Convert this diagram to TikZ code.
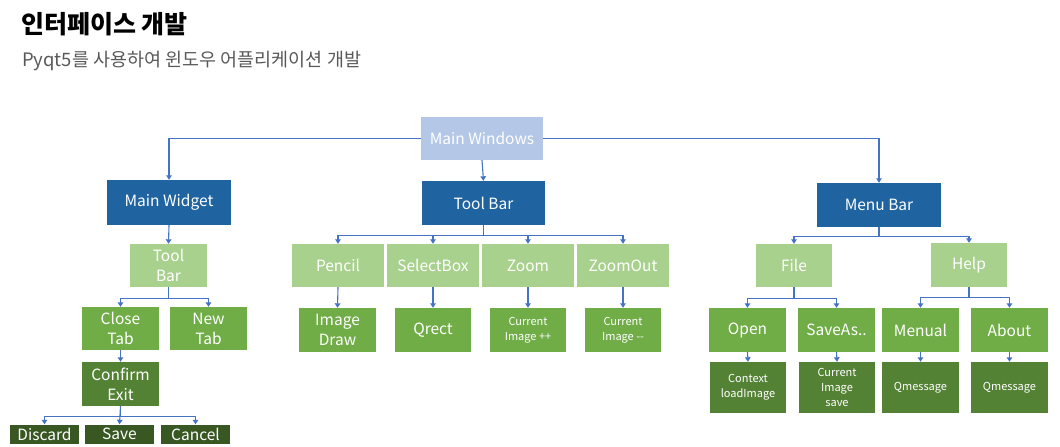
\documentclass[tikz,border=0pt]{standalone}
\usepackage{fontspec}
\setmainfont{Noto Sans CJK KR}
\usetikzlibrary{arrows.meta}
\definecolor{cMainWin}{HTML}{B4C7E7}
\definecolor{cBlue}{HTML}{1F64A0}
\definecolor{cLG}{HTML}{A9D18E}
\definecolor{cG}{HTML}{70AD47}
\definecolor{cDG}{HTML}{548235}
\definecolor{cDDG}{HTML}{385723}
\definecolor{cLine}{HTML}{4472C4}
\definecolor{cSub}{HTML}{595959}
\begin{document}
\begin{tikzpicture}[x=1pt,y=-1pt,
  box/.style={inner sep=0pt, text=white, align=center, font=\fontsize{15.5}{20}\selectfont},
  sz/.style 2 args={minimum width=#1pt, minimum height=#2pt},
  mainwin/.style={box, fill=cMainWin},
  bluebox/.style={box, fill=cBlue},
  lgbox/.style={box, fill=cLG},
  gbox/.style={box, fill=cG},
  dgbox/.style={box, fill=cDG},
  ddgbox/.style={box, fill=cDDG},
  small/.style={font=\fontsize{11}{15}\selectfont},
  conn/.style={draw=cLine, line width=1.1pt, -{Triangle[width=5.5pt,length=4.5pt]}}
]
\useasboundingbox (0,0) rectangle (1060,447);

% titles
\node[anchor=base west, inner sep=0pt, font=\fontsize{25}{30}\selectfont\bfseries] (title) at (21,33) {인터페이스 개발};
\node[anchor=base west, inner sep=0pt, text=cSub, font=\fontsize{18.5}{22}\selectfont] (subtitle) at (22,66) {Pyqt5를 사용하여 윈도우 어플리케이션 개발};

% level 0
\node[mainwin, sz={122}{43}] (mw) at (482,138.5) {Main Windows};

% level 1
\node[bluebox, sz={124}{45}] (widget) at (169,202.5) {Main Widget};
\node[bluebox, sz={123}{44}] (tbar) at (483.5,203) {Tool Bar};
\node[bluebox, sz={124}{44}] (mbar) at (879,205) {Menu Bar};

% main widget branch
\node[lgbox, sz={77}{43}] (wtb) at (168.5,265.5) {Tool\\Bar};
\node[gbox, sz={77}{43}] (close) at (120.5,328.5) {Close\\Tab};
\node[gbox, sz={77}{43}] (new) at (208.5,328.5) {New\\Tab};
\node[dgbox, sz={77}{44}] (confirm) at (120.5,384) {Confirm\\Exit};
\node[ddgbox, sz={69}{19}] (discard) at (44.5,434) {Discard};
\node[ddgbox, sz={69}{19}] (save) at (119.5,434) {Save};
\node[ddgbox, sz={69}{19}] (cancel) at (195.5,434) {Cancel};

% tool bar branch
\node[lgbox, sz={92}{43}] (pencil) at (338,265.5) {Pencil};
\node[lgbox, sz={92}{43}] (select) at (433,265.5) {SelectBox};
\node[lgbox, sz={92}{43}] (zoom) at (528,265.5) {Zoom};
\node[lgbox, sz={92}{43}] (zoomout) at (623,265.5) {ZoomOut};
\node[gbox, sz={77}{44}] (draw) at (337.5,330) {Image\\Draw};
\node[gbox, sz={76}{44}] (qrect) at (433,330) {Qrect};
\node[gbox, sz={76}{44}, small] (zin) at (528,330) {Current\\Image ++};
\node[gbox, sz={76}{44}, small] (zout) at (623,330) {Current\\Image {-}{-}};

% menu bar branch
\node[lgbox, sz={76}{43}] (file) at (794,265.5) {File};
\node[lgbox, sz={76}{44}] (help) at (969,265) {Help};
\node[gbox, sz={77}{44}] (open) at (747.5,330) {Open};
\node[gbox, sz={77}{44}] (saveas) at (836.5,330) {SaveAs..};
\node[gbox, sz={77}{44}] (manual) at (920.5,330) {Menual};
\node[gbox, sz={77}{44}] (about) at (1009.5,330) {About};
\node[dgbox, sz={76}{51}, small] (ctx) at (748,387.5) {Context\\loadImage};
\node[dgbox, sz={76}{51}, small] (cis) at (837,387.5) {Current\\Image\\save};
\node[dgbox, sz={77}{51}, small] (qm1) at (920.5,387.5) {Qmessage};
\node[dgbox, sz={77}{51}, small] (qm2) at (1009.5,387.5) {Qmessage};

% connectors level 0 -> 1
\draw[conn] (mw.west) -| (widget.north);
\draw[conn] (mw.south) -- (tbar.north);
\draw[conn] (mw.east) -| (mbar.north);

% main widget branch
\draw[conn] (widget.south) -- (wtb.north);
\draw[conn] (wtb.south) -- ++(0,11) -| (close.north);
\draw[conn] (wtb.south) -- ++(0,11) -| (new.north);
\draw[conn] (close.south) -- (confirm.north);
\draw[conn] (confirm.south) -- ++(0,10) -| (discard.north);
\draw[conn] (confirm.south) -- (save.north);
\draw[conn] (confirm.south) -- ++(0,10) -| (cancel.north);

% tool bar branch
\draw[conn] (tbar.south) -- ++(0,10) -| (pencil.north);
\draw[conn] (tbar.south) -- ++(0,10) -| (select.north);
\draw[conn] (tbar.south) -- ++(0,10) -| (zoom.north);
\draw[conn] (tbar.south) -- ++(0,10) -| (zoomout.north);
\draw[conn] (pencil.south) -- (draw.north);
\draw[conn] (select.south) -- (qrect.north);
\draw[conn] (zoom.south) -- (zin.north);
\draw[conn] (zoomout.south) -- (zout.north);

% menu bar branch
\draw[conn] (mbar.south) -- ++(0,9) -| (file.north);
\draw[conn] (mbar.south) -- ++(0,9) -| (help.north);
\draw[conn] (file.south) -- ++(0,11) -| (open.north);
\draw[conn] (file.south) -- ++(0,11) -| (saveas.north);
\draw[conn] (help.south) -- ++(0,10) -| (manual.north);
\draw[conn] (help.south) -- ++(0,10) -| (about.north);
\draw[conn] (open.south) -- (ctx.north);
\draw[conn] (saveas.south) -- (cis.north);
\draw[conn] (manual.south) -- (qm1.north);
\draw[conn] (about.south) -- (qm2.north);
\end{tikzpicture}
\end{document}
